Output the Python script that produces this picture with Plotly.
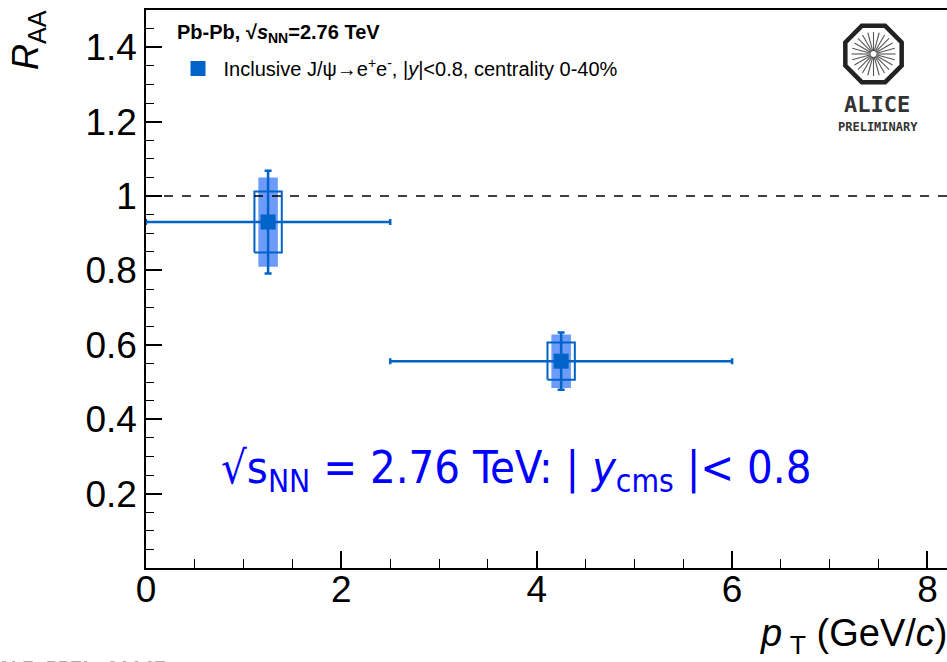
import numpy as np
import plotly.graph_objects as go

# ---------------- data ----------------
pt = [1.25, 4.25]                 # mean pT of each bin (GeV/c)
pt_err_lo = [1.25, 1.75]          # bin half-width to the left
pt_err_hi = [1.25, 1.75]          # bin half-width to the right
raa = [0.93, 0.556]               # R_AA values
stat_err = [0.138, 0.077]         # statistical uncertainty
sys_uncorr = [0.082, 0.050]       # uncorrelated systematic (open boxes)
sys_corr = [0.120, 0.072]         # partially correlated systematic (filled boxes)
ref_line = 1.0                    # R_AA = 1 reference

x_ticks = [0, 2, 4, 6, 8]
x_ticktext = ["0", "2", "4", "6", "8"]
y_ticks = [0.2, 0.4, 0.6, 0.8, 1.0, 1.2, 1.4]
y_ticktext = ["0.2", "0.4", "0.6", "0.8", "1", "1.2", "1.4"]

# ---------------- styles ----------------
W, H = 947, 662
ML, MT, MR, MB = 146, 10, 0, 94
PW, PH = W - ML - MR, H - MT - MB
DARK = "rgb(0,99,200)"
LIGHT = "rgba(100,150,250,0.95)"
BOX_HW_OPEN = 0.14
BOX_HW_FILL = 0.10


def px(x):
    return (x - ML) / PW


def py(y):
    return (H - MB - y) / PH


def boxes(xc, yc, dy, hw):
    xs, ys = [], []
    for x, y, d in zip(xc, yc, dy):
        xs += [x - hw, x + hw, x + hw, x - hw, x - hw, None]
        ys += [y - d, y - d, y + d, y + d, y - d, None]
    return xs, ys


fig = go.Figure()

fx, fy = boxes(pt, raa, sys_corr, BOX_HW_FILL)
fig.add_trace(go.Scatter(x=fx, y=fy, mode="lines", fill="toself",
                         fillcolor=LIGHT, line=dict(width=0),
                         showlegend=False, hoverinfo="skip"))

ox, oy = boxes(pt, raa, sys_uncorr, BOX_HW_OPEN)
fig.add_trace(go.Scatter(x=ox, y=oy, mode="lines",
                         line=dict(color=DARK, width=2),
                         showlegend=False, hoverinfo="skip"))

fig.add_trace(go.Scatter(
    x=pt, y=raa, mode="markers",
    name="\u00a0Inclusive J/\u03c8\u2192e<sup>+</sup>e<sup>-</sup>, |<i>y</i>|<0.8, centrality 0-40%",
    marker=dict(symbol="square", size=15, color=DARK),
    error_x=dict(type="data", symmetric=False, array=pt_err_hi, arrayminus=pt_err_lo,
                 color=DARK, thickness=2.5, width=3),
    error_y=dict(type="data", array=stat_err, color=DARK, thickness=2.5, width=3.5),
))

axis_common = dict(showline=True, linecolor="black", linewidth=1.5,
                   ticks="inside", tickwidth=1.5, tickcolor="black",
                   showgrid=False, zeroline=False,
                   tickfont=dict(family="Liberation Sans", size=37, color="black"))

fig.update_xaxes(range=[0, 8.2], tickmode="array", tickvals=x_ticks, ticktext=x_ticktext,
                 ticklen=17, mirror=True, ticklabelstandoff=-12,
                 minor=dict(tickmode="array", tickvals=list(np.arange(0, 8.21, 0.5)),
                            ticks="inside", ticklen=9, tickwidth=1.2, tickcolor="black"),
                 **axis_common)
fig.update_yaxes(range=[0, 1.5], tickmode="array", tickvals=y_ticks, ticktext=y_ticktext,
                 ticklen=16,
                 minor=dict(tickmode="array", tickvals=list(np.arange(0, 1.501, 0.05)),
                            ticks="inside", ticklen=8, tickwidth=1.2, tickcolor="black"),
                 **axis_common)

shapes = [dict(type="line", xref="paper", yref="y", x0=0, x1=1, y0=ref_line, y1=ref_line,
               line=dict(color="black", width=1.5, dash="dash"))]

# ALICE logo (decoration, paper coordinates)
cx, cy, R = 873.5, 54, 30.5
ang = np.deg2rad(22.5 + 45 * np.arange(8))
verts = [(cx + R * np.cos(a), cy + R * np.sin(a)) for a in ang]
path = "M " + " L ".join(f"{px(x):.5f},{py(y):.5f}" for x, y in verts) + " Z"
shapes.append(dict(type="path", xref="paper", yref="paper", path=path,
                   line=dict(color="#222", width=4.5)))
for a in np.deg2rad(np.arange(0, 360, 15)):
    shapes.append(dict(type="line", xref="paper", yref="paper",
                       x0=px(cx + 3 * np.cos(a)), y0=py(cy + 3 * np.sin(a)),
                       x1=px(cx + 22 * np.cos(a)), y1=py(cy + 22 * np.sin(a)),
                       line=dict(color="#555", width=1.1)))

annotations = [
    dict(text="<i>R</i><sub>AA</sub>", xref="paper", yref="paper", x=px(28), y=py(40),
         textangle=-90, showarrow=False, xanchor="center", yanchor="middle",
         font=dict(family="Liberation Sans", size=36, color="black")),
    dict(text="<i>p</i>\u2009<sub>T</sub>\u00a0(GeV/<i>c</i>)", xref="paper", yref="paper",
         x=px(949), y=py(610), showarrow=False, xanchor="right", yanchor="top",
         font=dict(family="Liberation Sans", size=38, color="black")),
    dict(text="\u221as<sub>NN</sub> = 2.76 TeV: | <i>y</i><sub>cms</sub> |< 0.8",
         xref="paper", yref="paper", x=px(516), y=py(470), showarrow=False,
         xanchor="center", yanchor="middle",
         font=dict(family="Liberation Sans Narrow, DejaVu Sans Condensed, Liberation Sans",
                   size=45, color="rgb(0,0,255)")),
    dict(text="<b>Pb-Pb, \u221a<i>s</i><sub>NN</sub>=2.76 TeV</b>", xref="paper", yref="paper",
         x=px(175), y=py(33), showarrow=False, xanchor="left", yanchor="middle",
         font=dict(family="Liberation Sans", size=20, color="black")),
    dict(text="<b>ALICE</b>", xref="paper", yref="paper", x=px(877), y=py(104),
         showarrow=False, xanchor="center", yanchor="middle",
         font=dict(family="DejaVu Sans Mono", size=22, color="#333")),
    dict(text="<b>PRELIMINARY</b>", xref="paper", yref="paper", x=px(878), y=py(127),
         showarrow=False, xanchor="center", yanchor="middle",
         font=dict(family="DejaVu Sans Mono", size=12, color="#333")),
    dict(text="<b>ALI-PREL-61147</b>", xref="paper", yref="paper", x=px(-4), y=py(655),
         showarrow=False, xanchor="left", yanchor="top",
         font=dict(family="Liberation Mono", size=20, color="#aaa")),
]

fig.update_layout(
    width=W, height=H, autosize=False,
    margin=dict(l=ML, r=MR, t=MT, b=MB, pad=0),
    plot_bgcolor="white", paper_bgcolor="white",
    shapes=shapes, annotations=annotations,
    showlegend=True,
    legend=dict(x=px(178), y=py(49), xanchor="left", yanchor="top",
                bgcolor="rgba(0,0,0,0)",
                font=dict(family="Liberation Sans", size=20, color="black")),
)

fig.write_html("out.html")
